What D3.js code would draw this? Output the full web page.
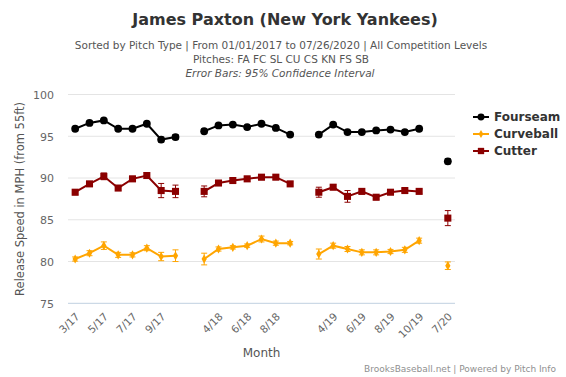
<!DOCTYPE html>
<html>
<head>
<meta charset="utf-8">
<script src="https://cdn.jsdelivr.net/npm/d3@7"></script>
<style>
  body { margin: 0; background: #fff; }
  svg text { font-family: "DejaVu Sans", sans-serif; }
</style>
</head>
<body>
<div id="chart"></div>
<script>
// months, "" marks an off-season gap (no games)
var categories = ["3/17","4/17","5/17","6/17","7/17","8/17","9/17","10/17","",
                  "3/18","4/18","5/18","6/18","7/18","8/18","9/18","",
                  "3/19","4/19","5/19","6/19","7/19","8/19","9/19","10/19","",
                  "7/20"];

var fourseam    = [95.9,96.6,96.9,95.9,95.9,96.5,94.6,94.9,null,
                   95.6,96.3,96.4,96.1,96.5,96.0,95.2,null,
                   95.2,96.4,95.5,95.5,95.7,95.8,95.5,95.9,null,
                   92.0];
var fourseamErr = [0.2,0.2,0.2,0.2,0.2,0.2,0.3,0.3,null,
                   0.25,0.15,0.15,0.15,0.15,0.15,0.2,null,
                   0.25,0.2,0.15,0.15,0.15,0.15,0.15,0.15,null,
                   0.3];

var curveball    = [80.3,81.0,81.9,80.8,80.8,81.6,80.6,80.7,null,
                    80.3,81.5,81.7,81.9,82.7,82.2,82.2,null,
                    80.9,81.9,81.5,81.1,81.1,81.2,81.4,82.5,null,
                    79.5];
var curveballErr = [0.25,0.3,0.45,0.3,0.25,0.3,0.5,0.7,null,
                    0.7,0.25,0.2,0.2,0.35,0.25,0.2,null,
                    0.6,0.3,0.3,0.3,0.3,0.25,0.3,0.3,null,
                    0.45];

var cutter    = [88.3,89.3,90.2,88.8,89.9,90.3,88.5,88.4,null,
                 88.4,89.4,89.7,89.9,90.1,90.1,89.3,null,
                 88.3,88.9,87.8,88.4,87.7,88.3,88.5,88.4,null,
                 85.2];
var cutterErr = [0.3,0.25,0.4,0.3,0.3,0.35,0.85,0.75,null,
                 0.65,0.25,0.25,0.3,0.3,0.25,0.25,null,
                 0.6,0.3,0.7,0.3,0.3,0.25,0.25,0.25,null,
                 0.9];

var yTicks = [75, 80, 85, 90, 95, 100];

var series = [
  {name: "Fourseam",  values: fourseam,  err: fourseamErr,  color: "#000000", symbol: d3.symbolCircle,  size: 48},
  {name: "Curveball", values: curveball, err: curveballErr, color: "#FFA500", symbol: d3.symbolDiamond, size: 24},
  {name: "Cutter",    values: cutter,    err: cutterErr,    color: "#8B0000", symbol: d3.symbolSquare,  size: 50}
];

var width = 566, height = 377;
var plot = {left: 68, right: 455, top: 94.5, bottom: 303.3};

var svg = d3.select("#chart").append("svg")
    .attr("width", width)
    .attr("height", height);

var x = d3.scaleBand()
    .domain(d3.range(categories.length))
    .range([plot.left, plot.right]);
var cx = function(i) { return x(i) + x.bandwidth() / 2; };

var y = d3.scaleLinear()
    .domain([75, 100])
    .range([plot.bottom, plot.top]);

// grid lines
svg.append("g")
    .selectAll("line")
    .data(yTicks)
    .enter().append("line")
    .attr("x1", plot.left).attr("x2", plot.right)
    .attr("y1", function(d) { return y(d); })
    .attr("y2", function(d) { return y(d); })
    .attr("stroke", function(d) { return d === 75 ? "#C0D0E0" : "#E4E4E4"; })
    .attr("stroke-width", 1);

// y axis labels
var yAxis = d3.axisLeft(y).tickValues(yTicks).tickSize(0).tickPadding(0);
var gy = svg.append("g")
    .attr("transform", "translate(" + (plot.left - 14) + ",0)")
    .call(yAxis);
gy.select(".domain").remove();
gy.selectAll("text")
    .attr("fill", "#666")
    .style("font-size", "11px")
    .attr("dy", "0.35em");

svg.append("text")
    .attr("transform", "translate(24," + ((plot.top + plot.bottom) / 2) + ") rotate(-90)")
    .attr("text-anchor", "middle")
    .attr("fill", "#555")
    .style("font-size", "11.5px")
    .text("Release Speed in MPH (from 55ft)");

// x axis labels, every other month
var xAxis = d3.axisBottom(x)
    .tickValues(d3.range(0, categories.length, 2))
    .tickFormat(function(i) { return categories[i]; })
    .tickSize(0);
var gx = svg.append("g")
    .attr("transform", "translate(0," + plot.bottom + ")")
    .call(xAxis);
gx.select(".domain").remove();
gx.selectAll("text")
    .attr("fill", "#666")
    .style("font-size", "10.5px")
    .attr("text-anchor", "end")
    .attr("dy", null)
    .attr("y", 0)
    .attr("transform", "translate(5,14) rotate(-45)");

svg.append("text")
    .attr("x", (plot.left + plot.right) / 2)
    .attr("y", 357)
    .attr("text-anchor", "middle")
    .attr("fill", "#555")
    .style("font-size", "12px")
    .text("Month");

// series
var line = d3.line()
    .defined(function(d) { return d != null; })
    .x(function(d, i) { return cx(i); })
    .y(function(d) { return y(d); });

series.forEach(function(s) {
  var g = svg.append("g");
  g.append("path")
      .datum(s.values)
      .attr("fill", "none")
      .attr("stroke", s.color)
      .attr("stroke-width", 2)
      .attr("d", line);

  var pts = s.values.map(function(v, i) { return {v: v, e: s.err[i], i: i}; })
      .filter(function(d) { return d.v != null; });

  var bars = g.selectAll(".err").data(pts).enter().append("g");
  bars.append("line")
      .attr("x1", function(d) { return cx(d.i); })
      .attr("x2", function(d) { return cx(d.i); })
      .attr("y1", function(d) { return y(d.v - d.e); })
      .attr("y2", function(d) { return y(d.v + d.e); })
      .attr("stroke", s.color);
  [-1, 1].forEach(function(sign) {
    bars.append("line")
        .attr("x1", function(d) { return cx(d.i) - 3; })
        .attr("x2", function(d) { return cx(d.i) + 3; })
        .attr("y1", function(d) { return y(d.v + sign * d.e); })
        .attr("y2", function(d) { return y(d.v + sign * d.e); })
        .attr("stroke", s.color);
  });

  g.selectAll(".pt").data(pts).enter().append("path")
      .attr("d", d3.symbol().type(s.symbol).size(s.size))
      .attr("transform", function(d) { return "translate(" + cx(d.i) + "," + y(d.v) + ")"; })
      .attr("fill", s.color);
});

// legend
var legend = svg.append("g").attr("transform", "translate(473,117)");
series.forEach(function(s, k) {
  var row = legend.append("g").attr("transform", "translate(0," + (k * 17) + ")");
  row.append("line").attr("x1", 0).attr("x2", 16).attr("stroke", s.color).attr("stroke-width", 2);
  row.append("path")
      .attr("d", d3.symbol().type(s.symbol).size(s.size * 0.8))
      .attr("transform", "translate(8,0)")
      .attr("fill", s.color);
  row.append("text")
      .attr("x", 21)
      .attr("dy", "0.35em")
      .attr("fill", "#333")
      .style("font-size", "12px")
      .style("font-weight", "bold")
      .text(s.name);
});

// titles
svg.append("text")
    .attr("x", 285).attr("y", 25)
    .attr("text-anchor", "middle")
    .attr("fill", "#333")
    .style("font-size", "16px")
    .style("font-weight", "bold")
    .text("James Paxton (New York Yankees)");

var sub = ["Sorted by Pitch Type | From 01/01/2017 to 07/26/2020 | All Competition Levels",
           "Pitches: FA FC SL CU CS KN FS SB"];
sub.forEach(function(t, k) {
  svg.append("text")
      .attr("x", 281).attr("y", 49 + k * 14)
      .attr("text-anchor", "middle")
      .attr("fill", "#555")
      .style("font-size", "10.5px")
      .text(t);
});
svg.append("text")
    .attr("x", 280).attr("y", 77)
    .attr("text-anchor", "middle")
    .attr("fill", "#555")
    .style("font-size", "10.5px")
    .style("font-style", "italic")
    .text("Error Bars: 95% Confidence Interval");

svg.append("text")
    .attr("x", 556).attr("y", 372)
    .attr("text-anchor", "end")
    .attr("fill", "#909090")
    .style("font-size", "9px")
    .text("BrooksBaseball.net | Powered by Pitch Info");
</script>
</body>
</html>
